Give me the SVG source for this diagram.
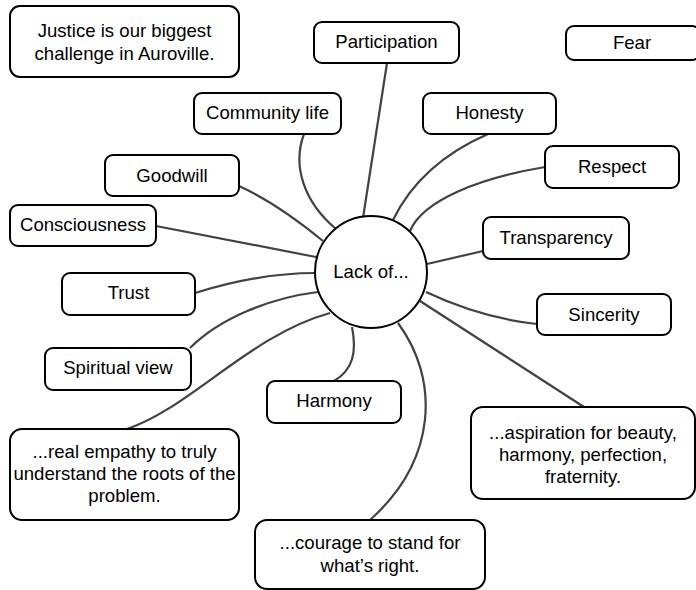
<svg xmlns="http://www.w3.org/2000/svg" width="696" height="590" viewBox="0 0 696 590">
<style>
.box{fill:#fff;stroke:#000;stroke-width:2}
.t{font-family:"Liberation Sans",Arial,sans-serif;font-size:18.6px;fill:#000;text-anchor:middle}
.c{fill:none;stroke:#424242;stroke-width:2.2}
</style>
<rect width="696" height="590" fill="#fff"/>
<g id="connectors">
<path class="c" d="M387,63 L363,218"/>
<path class="c" d="M304,134 C292,166 304,202 336,229"/>
<path class="c" d="M239,186 C270,200 300,222 323,241"/>
<path class="c" d="M156,226 L316,257"/>
<path class="c" d="M195,293 C240,279 280,273 315,273"/>
<path class="c" d="M190,348 C220,318 270,298 318,292"/>
<path class="c" d="M127,429 C190,408 250,335 330,313"/>
<path class="c" d="M352,327 C357,352 353,370 334,381"/>
<path class="c" d="M398,323 C440,380 437,460 370,520"/>
<path class="c" d="M420,301 L584,407"/>
<path class="c" d="M426,292 C460,308 500,320 537,324"/>
<path class="c" d="M427,264 L483,251"/>
<path class="c" d="M545,167 C480,178 423,200 410,231"/>
<path class="c" d="M488,134 C440,155 410,185 393,220"/>
</g>
<g id="center"><circle cx="371" cy="272" r="56" fill="#fff" stroke="#000" stroke-width="2"/><text class="t" x="371" y="278">Lack of...</text></g>
<g id="justice"><rect class="box" x="10" y="6" width="229" height="71" rx="10"/><text class="t" x="124.5" y="37">Justice is our biggest</text><text class="t" x="124.5" y="60">challenge in Auroville.</text></g>
<g id="participation"><rect class="box" x="314" y="22" width="145" height="41" rx="8"/><text class="t" x="386.5" y="48">Participation</text></g>
<g id="fear"><rect class="box" x="566" y="26" width="134" height="34" rx="8"/><text class="t" x="632" y="49">Fear</text></g>
<g id="community"><rect class="box" x="194" y="93" width="147" height="41" rx="8"/><text class="t" x="267.5" y="119">Community life</text></g>
<g id="honesty"><rect class="box" x="423" y="93" width="133" height="41" rx="8"/><text class="t" x="489.5" y="119">Honesty</text></g>
<g id="goodwill"><rect class="box" x="105" y="155" width="134" height="41" rx="8"/><text class="t" x="172" y="182">Goodwill</text></g>
<g id="respect"><rect class="box" x="545" y="146" width="134" height="42" rx="8"/><text class="t" x="612" y="173">Respect</text></g>
<g id="consciousness"><rect class="box" x="10" y="205" width="146" height="41" rx="8"/><text class="t" x="83" y="231">Consciousness</text></g>
<g id="transparency"><rect class="box" x="483" y="217" width="146" height="42" rx="8"/><text class="t" x="556" y="244">Transparency</text></g>
<g id="trust"><rect class="box" x="62" y="273" width="133" height="42" rx="8"/><text class="t" x="128.5" y="299">Trust</text></g>
<g id="sincerity"><rect class="box" x="537" y="294" width="134" height="41" rx="8"/><text class="t" x="604" y="321">Sincerity</text></g>
<g id="spiritual"><rect class="box" x="45" y="348" width="146" height="42" rx="8"/><text class="t" x="118" y="374">Spiritual view</text></g>
<g id="harmony"><rect class="box" x="267" y="381" width="134" height="42" rx="8"/><text class="t" x="334" y="407">Harmony</text></g>
<g id="empathy"><rect class="box" x="10" y="429" width="229" height="91" rx="12"/><text class="t" x="124.5" y="458">...real empathy to truly</text><text class="t" x="124.5" y="480">understand the roots of the</text><text class="t" x="124.5" y="502">problem.</text></g>
<g id="aspiration"><rect class="box" x="471" y="407" width="224" height="92" rx="12"/><text class="t" x="583" y="439">...aspiration for beauty,</text><text class="t" x="583" y="461">harmony, perfection,</text><text class="t" x="583" y="483">fraternity.</text></g>
<g id="courage"><rect class="box" x="255" y="520" width="230" height="69" rx="12"/><text class="t" x="370" y="549">...courage to stand for</text><text class="t" x="370" y="572">what’s right.</text></g>
</svg>
